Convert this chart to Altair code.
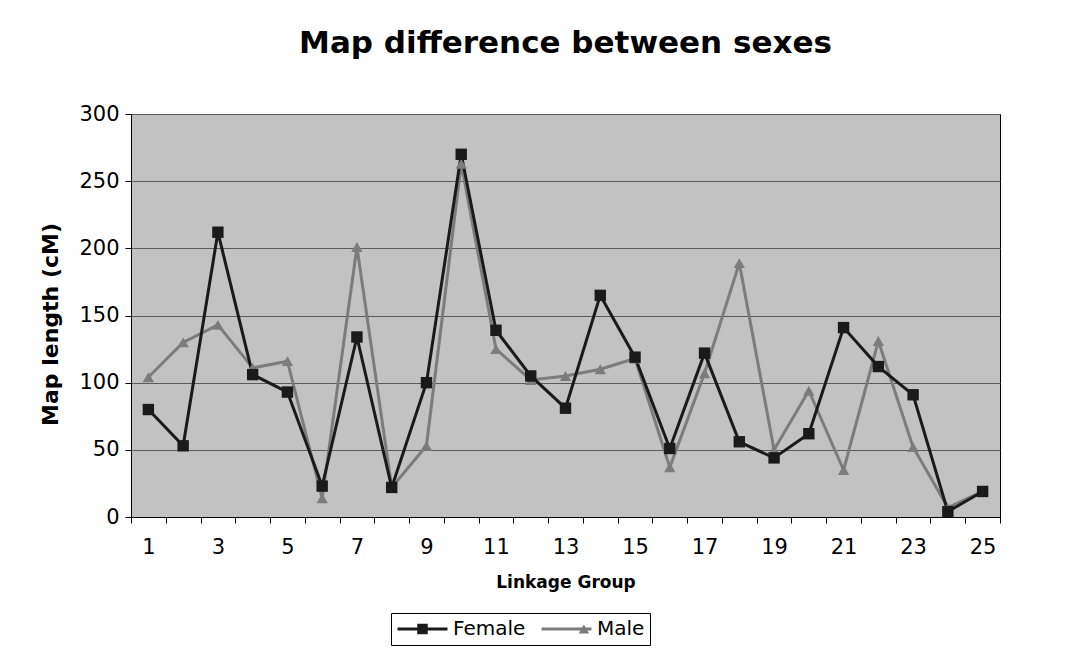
import altair as alt
import pandas as pd

groups = list(range(1, 26))
female = [80, 53, 212, 106, 93, 23, 134, 22, 100, 270, 139, 105, 81, 165, 119,
          51, 122, 56, 44, 62, 141, 112, 91, 4, 19]
male = [104, 130, 143, 111, 116, 14, 201, 22, 53, 263, 125, 102, 105, 110, 118,
        37, 107, 189, 50, 94, 35, 131, 52, 7, 19]
sexes = ["Female", "Male"]
y_ticks = [0, 50, 100, 150, 200, 250, 300]

rows = []
for g, f, m in zip(groups, female, male):
    rows.append({"group": g, "sex": "Male", "length": m})
    rows.append({"group": g, "sex": "Female", "length": f})
df = pd.DataFrame(rows)

FONT = "DejaVu Sans"
COLORS = ["#1a1a1a", "#7c7c7c"]

x_enc = alt.X(
    "group:O",
    scale=alt.Scale(paddingInner=0, paddingOuter=0),
    axis=alt.Axis(
        title="Linkage Group",
        labelAngle=0,
        tickBand="extent",
        labelExpr="datum.value % 2 == 1 ? datum.label : ''",
        labelFontSize=21,
        labelColor="black",
        labelPadding=13,
        titleFontSize=17,
        titleFontWeight="bold",
        titleColor="black",
        titlePadding=17,
        tickColor="black",
        tickSize=6,
        domainColor="black",
        grid=False,
    ),
)
y_enc = alt.Y(
    "length:Q",
    scale=alt.Scale(domain=[0, 300], nice=False),
    axis=alt.Axis(
        title="Map length (cM)",
        values=y_ticks,
        labelFontSize=21,
        labelColor="black",
        labelPadding=6,
        titleFontSize=22,
        titleFontWeight="bold",
        titleColor="black",
        titlePadding=16,
        titleY=210,
        tickColor="black",
        tickSize=6,
        domainColor="black",
        grid=True,
        gridColor="#5a5a5a",
        gridWidth=1,
    ),
)

line_legend = alt.Legend(
    title=None,
    orient="none",
    legendX=260,
    legendY=499,
    direction="horizontal",
    symbolType="stroke",
    symbolSize=2500,
    symbolStrokeWidth=3,
    clipHeight=22,
    labelOffset=4,
    labelFontSize=20,
    labelColor="black",
    strokeColor="black",
    padding=5,
    columnPadding=14,
)
marker_legend = alt.Legend(
    title=None,
    orient="none",
    legendX=260,
    legendY=499,
    direction="horizontal",
    symbolSize=110,
    symbolStrokeWidth=0,
    symbolOffset=16.5,
    clipHeight=22,
    labelOffset=37,
    labelFontSize=20,
    labelExpr="''",
    padding=5,
    columnPadding=87.4,
)

base = alt.Chart(df)

lines = base.mark_line(strokeWidth=3).encode(
    x=x_enc,
    y=y_enc,
    stroke=alt.Stroke("sex:N", scale=alt.Scale(domain=sexes, range=COLORS),
                      legend=line_legend),
    detail="sex:N",
)
points = base.mark_point(filled=True, size=130, opacity=1).encode(
    x=x_enc,
    y=y_enc,
    fill=alt.Fill("sex:N", scale=alt.Scale(range=COLORS), legend=marker_legend),
    shape=alt.Shape("sex:N", scale=alt.Scale(range=["square", "triangle-up"]),
                    legend=marker_legend),
)

chart = (
    alt.layer(lines, points)
    .properties(
        width=869,
        height=403,
        autosize=alt.AutoSizeParams(type="none"),
        padding={"left": 123, "top": 106, "right": 75, "bottom": 132},
        title=alt.TitleParams(
            "Map difference between sexes",
            fontSize=31,
            fontWeight="bold",
            color="black",
            anchor="middle",
            offset=43,
        ),
    )
    .configure(font=FONT, background="white")
    .configure_view(fill="#c2c2c2", stroke="black", strokeWidth=1)
)

chart.save("out.html", embed_options={"renderer": "svg", "actions": False})
